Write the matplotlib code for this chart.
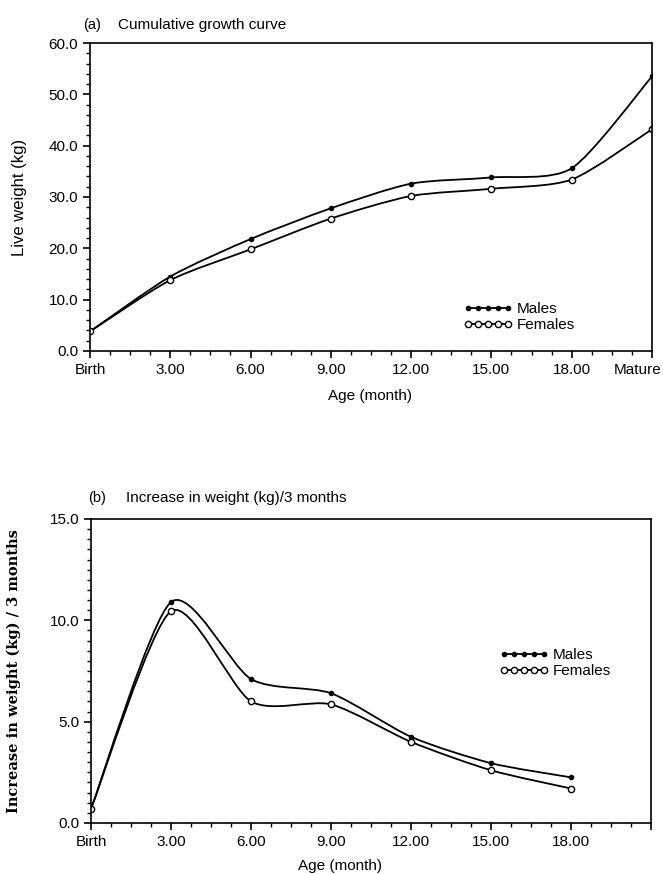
import matplotlib.pyplot as plt
from matplotlib.path import Path
from matplotlib.patches import PathPatch
from matplotlib.lines import Line2D
from matplotlib.ticker import MultipleLocator
from matplotlib.transforms import ScaledTranslation

plt.rcParams['font.family'] = ['Liberation Sans', 'DejaVu Sans']

# ages in months, "Mature" drawn at 21
age_a = [0, 3, 6, 9, 12, 15, 18, 21]
males_a = [3.8, 14.5, 21.8, 27.8, 32.6, 33.8, 35.6, 53.5]
females_a = [3.8, 13.8, 19.8, 25.8, 30.2, 31.6, 33.4, 43.2]

age_b = [0, 3, 6, 9, 12, 15, 18]
males_b = [0.7, 10.9, 7.1, 6.4, 4.25, 2.95, 2.25]
females_b = [0.7, 10.45, 6.0, 5.85, 4.0, 2.6, 1.7]

ticks_a = ['Birth', '3.00', '6.00', '9.00', '12.00', '15.00', '18.00', 'Mature']
ticks_b = ['Birth', '3.00', '6.00', '9.00', '12.00', '15.00', '18.00', '']


def smooth(ax, x, y, k=8):
    # cardinal curve through the points, drawn as bezier path
    n = len(x)
    verts = [(x[0], y[0])]
    codes = [Path.MOVETO]
    for i in range(n - 1):
        i0 = max(i - 1, 0)
        i3 = min(i + 2, n - 1)
        c1 = (x[i] + (x[i+1] - x[i0]) / k, y[i] + (y[i+1] - y[i0]) / k)
        c2 = (x[i+1] - (x[i3] - x[i]) / k, y[i+1] - (y[i3] - y[i]) / k)
        verts += [c1, c2, (x[i+1], y[i+1])]
        codes += [Path.CURVE4] * 3
    ax.add_patch(PathPatch(Path(verts, codes), facecolor='none',
                           edgecolor='black', linewidth=1.3))


def panel(ax, x, m, f, ymax, ymaj, ymin, xticklab, ylab, yfont):
    smooth(ax, x, m)
    smooth(ax, x, f)
    ax.plot(x, m, linestyle='none', marker='o', markersize=3, color='black')
    ax.plot(x, f, linestyle='none', marker='o', markersize=4.5,
            markerfacecolor='white', markeredgecolor='black', markeredgewidth=1)
    ax.set_xlim(0, 21)
    ax.set_ylim(0, ymax)
    ax.set_xticks([0, 3, 6, 9, 12, 15, 18, 21])
    ax.set_xticklabels(xticklab, fontsize=11)
    ax.xaxis.set_minor_locator(MultipleLocator(0.75))
    ax.yaxis.set_major_locator(MultipleLocator(ymaj))
    ax.yaxis.set_minor_locator(MultipleLocator(ymin))
    ax.yaxis.set_major_formatter('{x:.1f}')
    ax.tick_params(labelsize=11, length=5, width=1.2, direction='out')
    ax.tick_params(which='minor', length=3, width=1)
    for s in ax.spines.values():
        s.set_linewidth(1.2)
    ax.set_ylabel(ylab, **yfont)


fig = plt.figure(figsize=(6.63, 8.74), dpi=100)

ax1 = fig.add_axes([0.1357, 0.5984, 0.8477, 0.3524])
panel(ax1, age_a, males_a, females_a, 60, 10, 2, ticks_a, 'Live weight (kg)',
      dict(fontsize=12))
ax1.yaxis.set_label_coords(-0.112, 0.5)
ax1.set_xlabel('Age (month)', fontsize=11)
ax1.xaxis.set_label_coords(0.498, -0.125)
last = ax1.get_xticklabels()[-1]
last.set_horizontalalignment('right')
last.set_transform(last.get_transform() + ScaledTranslation(0.1, 0, fig.dpi_scale_trans))

ax2 = fig.add_axes([0.1373, 0.0584, 0.8447, 0.3478])
panel(ax2, age_b, males_b, females_b, 15, 5, 0.5, ticks_b,
      'Increase in weight (kg) / 3 months',
      dict(fontsize=10.5, family='DejaVu Serif', fontweight='bold'))
ax2.yaxis.set_label_coords(-0.125, 0.5)
ax2.set_xlabel('Age (month)', fontsize=11)
ax2.xaxis.set_label_coords(0.444, -0.118)

handles = [
    Line2D([], [], color='black', linewidth=1.3, marker='o', markersize=3),
    Line2D([], [], color='black', linewidth=1.3, marker='o', markersize=4.5,
           markerfacecolor='white', markeredgecolor='black'),
]
for ax, pos in [(ax1, (0.64, 0.11)), (ax2, (0.705, 0.526))]:
    ax.legend(handles, ['Males', 'Females'], loc='center left', bbox_to_anchor=pos,
              frameon=False, numpoints=5, handlelength=3.2, handletextpad=0.3,
              labelspacing=0.15, fontsize=11)

fig.text(0.125, 0.971, '(a)', fontsize=10.5, va='center')
fig.text(0.178, 0.971, 'Cumulative growth curve', fontsize=11, va='center')
fig.text(0.133, 0.430, '(b)', fontsize=10.5, va='center')
fig.text(0.19, 0.430, 'Increase in weight (kg)/3 months', fontsize=11, va='center')

fig.savefig('out.png', dpi=100)
